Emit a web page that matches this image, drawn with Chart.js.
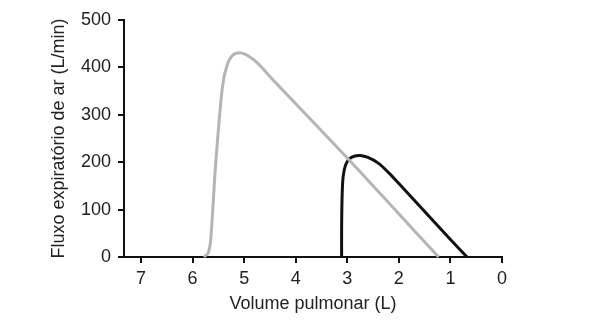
<!DOCTYPE html>
<html>
<head>
<meta charset="utf-8">
<script src="https://cdn.jsdelivr.net/npm/chart.js@4"></script>
<style>
  html, body { margin: 0; padding: 0; background: #fff; }
  #wrap { width: 592px; height: 320px; }
</style>
</head>
<body>
<div id="wrap"><canvas id="myChart" width="592" height="320"></canvas></div>
<script>
// tick labels
const xTicks = [0, 1, 2, 3, 4, 5, 6, 7];
const yTicks = [0, 100, 200, 300, 400, 500];

// grey curve (volume L, flow L/min)
const greyVolume = [5.78, 5.70, 5.65, 5.55, 5.42, 5.33, 5.22, 5.08, 4.95, 4.75, 4.40, 3.00, 2.00, 1.23];
const greyFlow   = [0,    8,    35,   200,  360,  405,  426,  431,  426,  410,  369,  209,  91,   0];

// black curve
const blackVolume = [3.11, 3.11, 3.10, 3.08, 3.03, 2.95, 2.85, 2.75, 2.60, 2.40, 2.20, 2.00, 1.50, 1.00, 0.68];
const blackFlow   = [0,    60,   130,  170,  195,  208,  213,  214,  210,  198,  178,  155,  96,   37,   0];

const toPoints = (xs, ys) => xs.map((x, i) => ({ x: x, y: ys[i] }));

const font = { family: "'Liberation Sans', Arial, sans-serif", size: 18 };

var ctx = document.getElementById('myChart').getContext('2d');
var chart = new Chart(ctx, {
    type: 'scatter',
    data: {
        datasets: [
            {
                label: 'grey',
                data: toPoints(greyVolume, greyFlow),
                showLine: true,
                borderColor: '#b5b5b5',
                borderWidth: 3,
                pointRadius: 0,
                tension: 0.3,
                clip: false
            },
            {
                label: 'black',
                data: toPoints(blackVolume, blackFlow),
                showLine: true,
                borderColor: '#111111',
                borderWidth: 3,
                pointRadius: 0,
                tension: 0.3,
                clip: false
            }
        ]
    },
    options: {
        responsive: false,
        animation: false,
        layout: { padding: { left: 40, right: 90, top: 20, bottom: 0 } },
        plugins: {
            legend: { display: false },
            tooltip: { enabled: false }
        },
        scales: {
            x: {
                type: 'linear',
                reverse: true,
                min: 0,
                max: 7.33,
                afterBuildTicks: (scale) => { scale.ticks = xTicks.map(v => ({ value: v })); },
                afterFit: (scale) => { scale.height = 63; },
                border: { display: true, color: '#111', width: 2 },
                grid: { display: true, drawOnChartArea: false, drawTicks: true, tickLength: 6, color: '#111', lineWidth: 2 },
                ticks: { color: '#222', font: font, padding: 5, maxRotation: 0 },
                title: { display: true, text: 'Volume pulmonar (L)', color: '#222', font: font, padding: { top: 0, bottom: 5 } }
            },
            y: {
                min: 0,
                max: 500,
                afterBuildTicks: (scale) => { scale.ticks = yTicks.map(v => ({ value: v })); },
                afterFit: (scale) => { scale.width = 84; },
                border: { display: true, color: '#111', width: 2 },
                grid: { display: true, drawOnChartArea: false, drawTicks: true, tickLength: 6, color: '#111', lineWidth: 2 },
                ticks: { color: '#222', font: font, padding: 7 },
                title: { display: true, text: 'Fluxo expiratório de ar (L/min)', color: '#222', font: font, padding: { top: 8, bottom: 0 } }
            }
        }
    }
});
</script>
</body>
</html>
